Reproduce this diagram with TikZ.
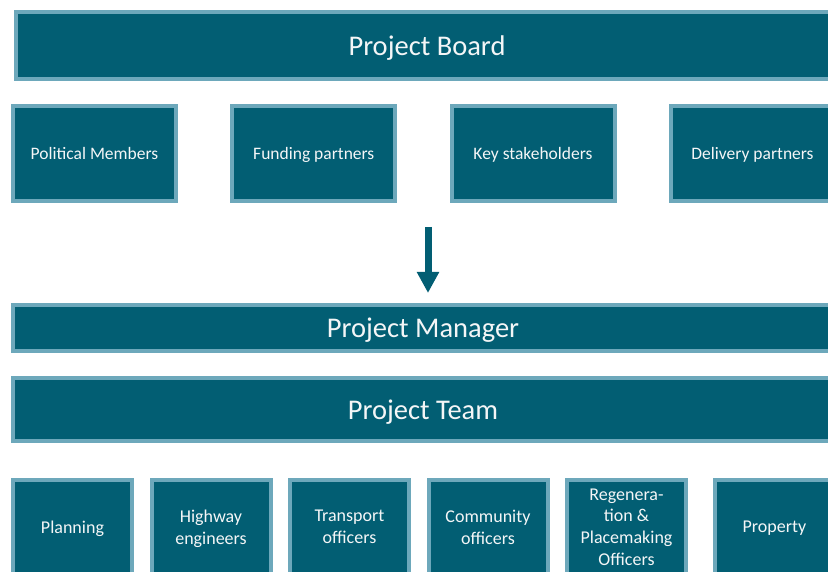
\documentclass[tikz,border=0pt]{standalone}
\usepackage{fontspec}
\setmainfont{Carlito}
\usetikzlibrary{arrows.meta}
\definecolor{boxfill}{HTML}{025E73}
\definecolor{boxedge}{HTML}{6DA8BB}
\definecolor{txt}{HTML}{F4F6F7}
\tikzset{
  box/.style={rectangle, fill=boxfill, draw=boxedge, line width=4pt, text=txt, align=center, inner sep=0pt, text depth=0pt},
  titlebox/.style={box, font=\fontsize{28.5}{34}\selectfont},
  rowbox/.style={box, minimum width=163pt, minimum height=95pt, font=\fontsize{17.5}{21}\selectfont},
  teambox/.style={box, minimum width=119pt, minimum height=94pt, font=\fontsize{18}{21.7}\selectfont},
  flowarrow/.style={draw=boxfill, line width=7pt, -{Triangle[width=21pt,length=21pt]}}
}
\begin{document}
\begin{tikzpicture}[x=1pt,y=-1pt]
\useasboundingbox (0,0) rectangle (828,572);
\node[titlebox, minimum width=822pt, minimum height=67pt] (board) at (427,45.5) {Project Board};
\node[rowbox] (pol) at (94.5,153.5) {Political Members};
\node[rowbox] (fund) at (313.8,153.5) {Funding partners};
\node[rowbox] (key) at (533,153.5) {Key stakeholders};
\node[rowbox] (del) at (752.5,153.5) {Delivery partners};
\node[titlebox, minimum width=820pt, minimum height=46pt] (pm) at (423,328) {Project Manager};
\node[titlebox, minimum width=820pt, minimum height=63pt] (pt) at (423,409.5) {Project Team};
\node[teambox] (plan) at (72.5,527) {Planning};
\node[teambox] (hwy) at (211,527) {Highway\\engineers};
\node[teambox] (trans) at (349.5,527) {Transport\\officers};
\node[teambox] (comm) at (488,527) {Community\\officers};
\node[teambox] (regen) at (626.5,527) {Regenera-\\tion \&\\Placemaking\\Officers};
\node[teambox] (prop) at (774.5,527) {Property};
\coordinate (arrtop) at (428,227);
\coordinate (arrtip) at (428,293);
\draw[flowarrow] (arrtop) -- (arrtip);
\end{tikzpicture}
\end{document}
